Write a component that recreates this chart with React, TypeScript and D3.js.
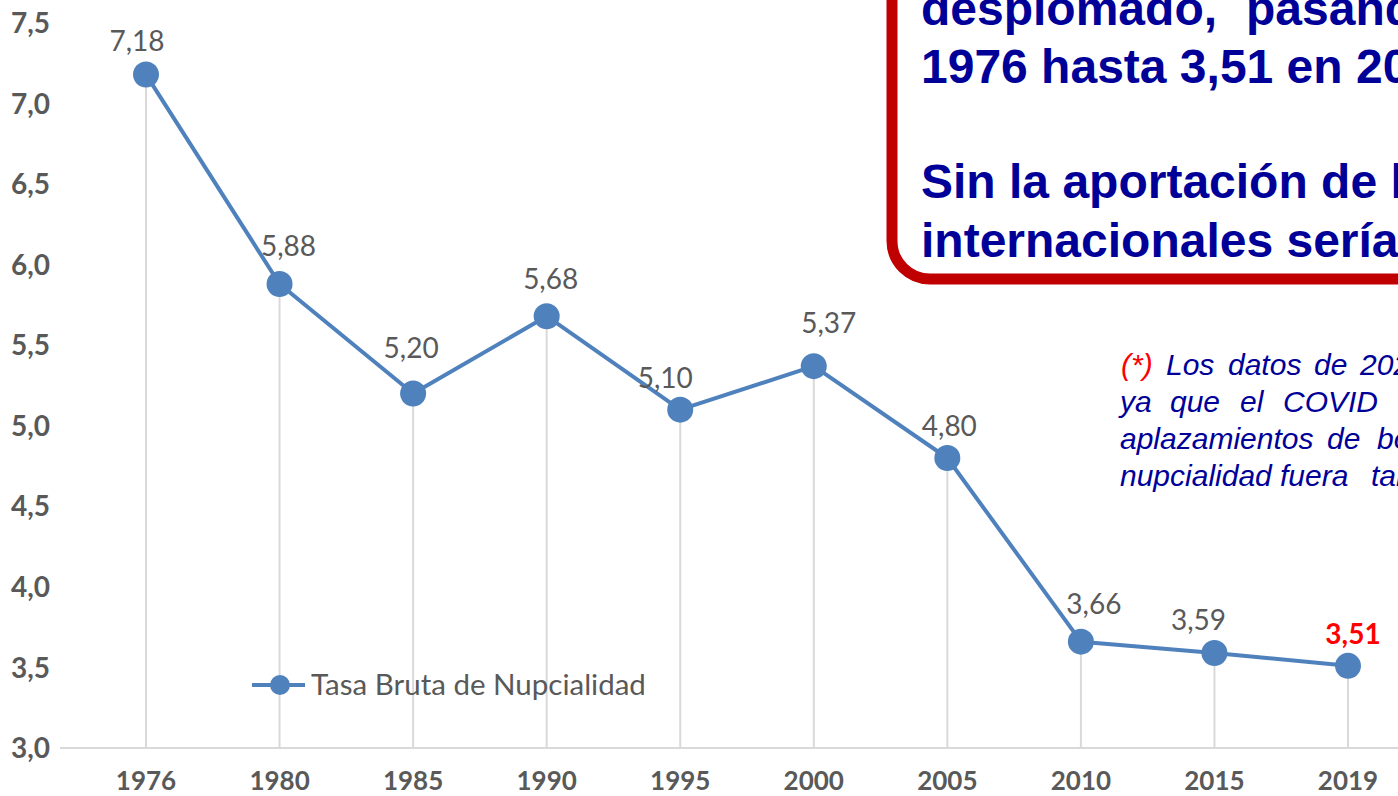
import React from "react";
import * as d3 from "d3";

const years = ["1976", "1980", "1985", "1990", "1995", "2000", "2005", "2010", "2015", "2019"];
const rates = [7.18, 5.88, 5.2, 5.68, 5.1, 5.37, 4.8, 3.66, 3.59, 3.51];
const yTicks = [3.0, 3.5, 4.0, 4.5, 5.0, 5.5, 6.0, 6.5, 7.0, 7.5];
const seriesName = "Tasa Bruta de Nupcialidad";

// manual data-label nudges (layout only)
const labelDx = [-9, 9, -2, 4, -15, 15, 2, 13, -16, 5];
const labelDy = [-34, -38, -46, -37, -32, -43, -32, -38, -33, -32];

const boxLines: { words: string[]; xs: number[]; y: number }[] = [
  { words: ["desplomado,", "pasando"], xs: [921, 1246], y: 25 },
  { words: ["1976 hasta 3,51 en 2019"], xs: [921], y: 83 },
  { words: ["Sin la aportación de las"], xs: [921], y: 198 },
  { words: ["internacionales serían"], xs: [921], y: 257 },
];

const noteLines: { words: string[]; xs: number[]; y: number }[] = [
  { words: ["(*)", "Los", "datos", "de", "2020"], xs: [1121, 1166, 1228, 1314, 1360], y: 375 },
  { words: ["ya", "que", "el", "COVID"], xs: [1120, 1170, 1240, 1283], y: 412 },
  { words: ["aplazamientos", "de", "bodas"], xs: [1120, 1327, 1377], y: 449 },
  { words: ["nupcialidad", "fuera", "tan"], xs: [1120, 1280, 1371], y: 486 },
];

const fmt = (v: number, d: number) => d3.format(`.${d}f`)(v).replace(".", ",");

export default function App() {
  const W = 1398;
  const H = 796;
  const x = d3.scalePoint<string>().domain(years).range([146, 1348]);
  const y = d3.scaleLinear().domain([3, 7.5]).range([748, 23]);
  const pts = years.map((yr, i) => ({ yr, v: rates[i], px: x(yr) as number, py: y(rates[i]) }));
  const line = d3
    .line<{ px: number; py: number }>()
    .x((d) => d.px)
    .y((d) => d.py);
  const blue = "#4f81bd";
  const grey = "#595959";
  const navy = "#000099";
  const last = pts.length - 1;

  return (
    <svg
      width={W}
      height={H}
      style={{ position: "absolute", left: 0, top: 0, background: "#fff" }}
    >
      <rect x={0} y={0} width={W} height={H} fill="#fff" />
      {/* y tick labels */}
      {yTicks.map((t) => (
        <text
          key={t}
          x={50}
          y={y(t)}
          dy="0.36em"
          textAnchor="end"
          fontFamily="Lato, sans-serif"
          fontWeight="bold"
          fontSize={28}
          fill={grey}
        >
          {fmt(t, 1)}
        </text>
      ))}
      {/* drop lines */}
      {pts.map((p) => (
        <line key={"d" + p.yr} x1={p.px} x2={p.px} y1={p.py} y2={y(3)} stroke="#d9d9d9" strokeWidth={2} />
      ))}
      {/* x axis line */}
      <line x1={60} x2={W} y1={y(3)} y2={y(3)} stroke="#d9d9d9" strokeWidth={2} />
      {/* x labels */}
      {years.map((yr) => (
        <text
          key={"x" + yr}
          x={x(yr)}
          y={790}
          textAnchor="middle"
          fontFamily="Lato, sans-serif"
          fontWeight="bold"
          fontSize={26}
          fill={grey}
        >
          {yr}
        </text>
      ))}
      {/* series */}
      <path d={line(pts) || ""} fill="none" stroke={blue} strokeWidth={4} strokeLinejoin="round" />
      {pts.map((p) => (
        <circle key={"c" + p.yr} cx={p.px} cy={p.py} r={13} fill={blue} />
      ))}
      {pts.map((p, i) => (
        <text
          key={"l" + p.yr}
          x={p.px + labelDx[i]}
          y={p.py + labelDy[i] + 10}
          textAnchor="middle"
          fontFamily="Lato, sans-serif"
          fontWeight={i === last ? "bold" : "normal"}
          fontSize={28}
          fill={i === last ? "#ff0000" : grey}
        >
          {fmt(p.v, 2)}
        </text>
      ))}
      {/* legend */}
      <line x1={252} x2={305} y1={685} y2={685} stroke={blue} strokeWidth={4} />
      <circle cx={280} cy={685} r={10} fill={blue} />
      <text x={311} y={695} fontFamily="Lato, sans-serif" fontSize={29.5} fill={grey}>
        {seriesName}
      </text>
      {/* red callout box */}
      <rect x={892} y={-100} width={700} height={379} rx={38} ry={38} fill="#fff" stroke="#c00000" strokeWidth={11} />
      {boxLines.map((l, i) =>
        l.words.map((w, j) => (
          <text
            key={"b" + i + "_" + j}
            x={l.xs[j]}
            y={l.y}
            fontFamily="'Liberation Sans', Arial, sans-serif"
            fontWeight="bold"
            fontSize={48}
            fill={navy}
          >
            {w}
          </text>
        ))
      )}
      {/* footnote */}
      {noteLines.map((l, i) =>
        l.words.map((w, j) => (
          <text
            key={"n" + i + "_" + j}
            x={l.xs[j]}
            y={l.y}
            fontFamily="'Liberation Sans', Arial, sans-serif"
            fontStyle="italic"
            fontSize={30}
            fill={w === "(*)" ? "#ff0000" : navy}
          >
            {w}
          </text>
        ))
      )}
    </svg>
  );
}
